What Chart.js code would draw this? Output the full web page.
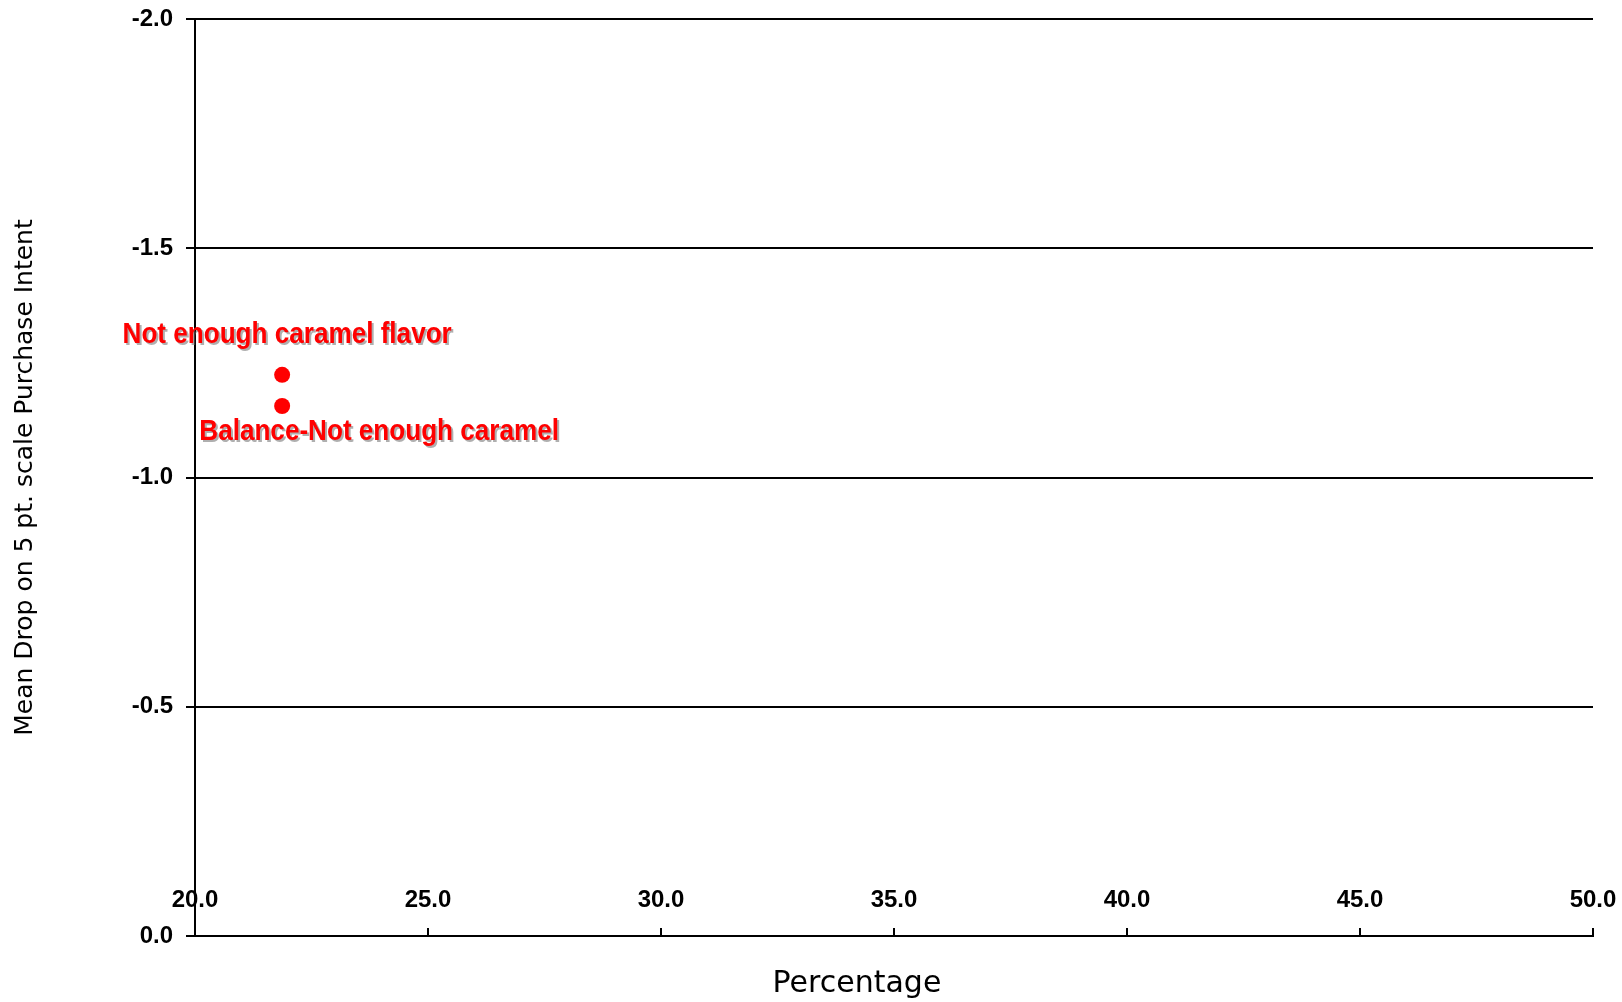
<!DOCTYPE html>
<html>
<head>
<meta charset="utf-8">
<title>Mean Drop vs Percentage</title>
<script src="https://cdn.jsdelivr.net/npm/chart.js@4/dist/chart.umd.min.js"></script>
<style>
  html, body { margin: 0; padding: 0; background: #fff; }
  #wrap { width: 1622px; height: 1002px; position: relative; }
</style>
</head>
<body>
<div id="wrap"><canvas id="grafico"></canvas></div>
<script>
// data
const attributes = ['Not enough caramel flavor', 'Balance-Not enough caramel']
const percentage = [21.87, 21.87]
const meanDrop = [-1.224, -1.156]

const xTicks = [20, 25, 30, 35, 40, 45, 50]
const yTicks = [-2.0, -1.5, -1.0, -0.5, 0.0]

// where each point label sits relative to its point (dx to centre, dy to baseline)
const labelOffsets = [[5, -32], [97, 34]]

const puntos = percentage.map((p, i) => ({ x: p, y: meanDrop[i] }))

// narrow bold labels (Arial Narrow look: bold sans squeezed horizontally)
const etiquetas = {
    id: 'etiquetas',
    afterDatasetsDraw(chart) {
        const ctx = chart.ctx
        const meta = chart.getDatasetMeta(0)
        const squeeze = 0.87
        meta.data.forEach((pt, i) => {
            const off = labelOffsets[i]
            ctx.save()
            ctx.translate(pt.x + off[0], pt.y + off[1])
            ctx.scale(squeeze, 1)
            ctx.font = 'bold 30px "Liberation Sans", Arial, sans-serif'
            ctx.textAlign = 'center'
            ctx.textBaseline = 'alphabetic'
            ctx.fillStyle = '#ff0000'
            ctx.shadowColor = 'rgba(110,110,110,0.55)'
            ctx.shadowOffsetX = 2
            ctx.shadowOffsetY = 2
            ctx.shadowBlur = 0
            ctx.fillText(attributes[i], 0, 0)
            ctx.restore()
        })
    }
}

const tituloX = {
    id: 'tituloX',
    afterDraw(chart) {
        const ctx = chart.ctx
        const a = chart.chartArea
        ctx.save()
        ctx.font = '30px "DejaVu Sans", sans-serif'
        ctx.fillStyle = '#000'
        ctx.textAlign = 'center'
        ctx.textBaseline = 'alphabetic'
        ctx.fillText('Percentage', a.left + (a.right - a.left) * 0.4735, 992)
        ctx.restore()
    }
}

const tickFont = { family: '"Liberation Sans", Arial, sans-serif', size: 24, weight: 'bold' }

const config = {
    type: 'scatter',
    data: {
        datasets: [{
            label: 'Attributes',
            data: puntos,
            backgroundColor: '#ff0000',
            borderWidth: 0,
            pointRadius: 8,
            pointHoverRadius: 8
        }]
    },
    options: {
        responsive: true,
        maintainAspectRatio: false,
        animation: false,
        layout: { padding: { top: 19, right: 29, bottom: 0, left: 0 } },
        plugins: {
            legend: { display: false },
            tooltip: { enabled: false }
        },
        scales: {
            x: {
                type: 'linear',
                position: 'bottom',
                min: xTicks[0],
                max: xTicks[xTicks.length - 1],
                afterFit: (s) => {
                    s.height = 66
                    s.paddingLeft = 0
                    s.paddingRight = 0
                },
                afterBuildTicks: (s) => { s.ticks = xTicks.map(v => ({ value: v })) },
                grid: {
                    drawOnChartArea: false,
                    drawTicks: true,
                    tickLength: -8,
                    color: '#000',
                    lineWidth: 2
                },
                border: { display: true, color: '#000', width: 2 },
                ticks: {
                    mirror: true,
                    padding: 21,
                    color: '#000',
                    font: tickFont,
                    callback: (v) => Number(v).toFixed(1)
                }
            },
            y: {
                type: 'linear',
                reverse: true,
                min: yTicks[0],
                max: yTicks[yTicks.length - 1],
                afterFit: (s) => {
                    s.width = 195
                    s.paddingTop = 0
                    s.paddingBottom = 0
                },
                afterBuildTicks: (s) => { s.ticks = yTicks.map(v => ({ value: v })) },
                grid: {
                    drawOnChartArea: true,
                    drawTicks: true,
                    tickLength: 9,
                    color: '#000',
                    lineWidth: 2
                },
                border: { display: true, color: '#000', width: 2 },
                ticks: {
                    padding: 13,
                    color: '#000',
                    font: tickFont,
                    callback: (v) => Number(v).toFixed(1)
                },
                title: {
                    display: true,
                    text: 'Mean Drop on 5 pt. scale Purchase Intent',
                    color: '#000',
                    font: { family: '"DejaVu Sans", sans-serif', size: 25 },
                    padding: { top: 10, bottom: 0 }
                }
            }
        }
    },
    plugins: [etiquetas, tituloX]
}

const grafico = document.querySelector('#grafico')
new Chart(grafico, config)
</script>
</body>
</html>
